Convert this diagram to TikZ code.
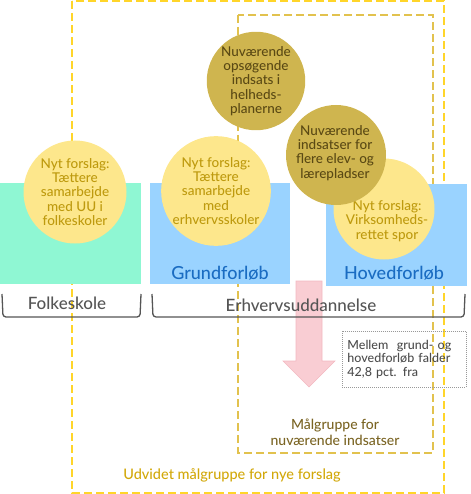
\documentclass[tikz,border=0pt]{standalone}
\usepackage{fontspec}
\setmainfont{Lato}[UprightFont=* Medium]
\definecolor{outery}{HTML}{FFD52A}
\definecolor{innery}{HTML}{E2C24E}
\definecolor{mint}{HTML}{8FF7D3}
\definecolor{sky}{HTML}{9AD3FF}
\definecolor{lightc}{HTML}{FDE78C}
\definecolor{darkc}{HTML}{CFB54F}
\definecolor{lighttxt}{HTML}{BE9A0E}
\definecolor{darktxt}{HTML}{5A4914}
\definecolor{bluetxt}{HTML}{1A6CC2}
\definecolor{greytxt}{HTML}{555555}
\definecolor{pinkfill}{HTML}{F9CDD3}
\definecolor{pinkline}{HTML}{F3B9C1}
\definecolor{goldtxt}{HTML}{D2A80A}
\definecolor{olivetxt}{HTML}{7A6423}
\begin{document}
\begin{tikzpicture}[x=1pt,y=-1pt,
  outerbox/.style={draw=outery, line width=1.4pt, dash pattern=on 8pt off 4pt},
  innerbox/.style={draw=innery, line width=1.4pt, dash pattern=on 8pt off 4pt},
  stagebox/.style={anchor=north west, inner sep=0pt, minimum height=101pt},
  lightcirc/.style={circle, fill=lightc, inner sep=0pt, minimum size=101pt, text=lighttxt,
    align=center, font=\fontsize{13.5}{14.3}\selectfont},
  darkcirc/.style={circle, fill=darkc, inner sep=0pt, minimum size=99pt, text=darktxt,
    align=center, font=\fontsize{13.5}{14.3}\selectfont},
  stagetxt/.style={text=bluetxt, font=\fontsize{18}{20}\selectfont},
  brtxt/.style={text=greytxt, font=\fontsize{17}{20}\selectfont},
  bracketline/.style={draw=greytxt, line width=1.3pt, rounded corners=3pt},
]
\useasboundingbox (0,0) rectangle (470,494);

% dashed target-group frames
\draw[outerbox] (72,1) rectangle (444,493);
\draw[innerbox] (238,15) rectangle (433,453);

% stage rectangles
\node[stagebox, fill=mint, minimum width=141pt] (fs) at (0,183) {};
\node[stagebox, fill=sky, minimum width=140pt] (gf) at (150,183) {};
\node[stagebox, fill=sky, minimum width=141pt, minimum height=102pt] (hf) at (326,184) {};
\node[stagetxt] (gftxt) at (220,273) {Grundforløb};
\node[stagetxt] (hftxt) at (394,273) {Hovedforløb};

% circles
\node[lightcirc, minimum size=103pt] (c1) at (75,192) {Nyt forslag:\\Tættere\\samarbejde\\med UU i\\folkeskoler};
\node[lightcirc, minimum size=98pt] (c2) at (216,191) {Nyt forslag:\\Tættere\\samarbejde\\med\\erhvervsskoler};
\node[lightcirc, minimum size=101pt] (c3) at (384,209) {};
\node[text=lighttxt, align=center, font=\fontsize{13.5}{14.3}\selectfont] (c3txt) at (387,221) {Nyt forslag:\\Virksomheds-\\rettet spor};
\node[darkcirc, minimum size=98pt] (d1) at (256,81) {Nuværende\\opsøgende\\indsats i\\helheds-\\planerne};
\node[darkcirc, minimum size=100pt] (d2) at (336,155) {};
\node[text=darktxt, align=center, font=\fontsize{13.5}{14.3}\selectfont] (d2txt) at (335,153) {Nuværende\\indsatser for\\flere elev- og\\lærepladser};

% drop-out arrow
\draw[fill=pinkfill, draw=pinkline, line width=0.6pt]
  (296,281) -- (322,281) -- (322,361) -- (335,361) -- (309,387) -- (283,361) -- (296,361) -- cycle;

% brackets
\draw[bracketline] (2,294) -- (3,317) -- (140,317) -- (141,294);
\draw[bracketline] (152,294) -- (153,317) -- (464,317) -- (465,294);
\node[brtxt] (fstxt) at (67,303) {Folkeskole};
\node[brtxt] (eudtxt) at (301,305) {Erhvervsuddannelse};

% note box
\node[draw=gray!80, line width=0.8pt, dash pattern=on 1pt off 1pt, anchor=north west,
  minimum width=124pt, minimum height=56pt, text width=114pt, inner xsep=5pt, align=left,
  text=greytxt!90!black, font=\fontsize{12.5}{13.6}\selectfont] (note) at (342,331)
  {Mellem\ \ grund- og\\hovedforløb falder\\42,8 pct. fra};

% labels of frames
\node[text=olivetxt, align=center, font=\fontsize{14}{16}\selectfont] (inlbl) at (335,432) {Målgruppe for\\nuværende indsatser};
\node[text=goldtxt, font=\fontsize{14.5}{16}\selectfont] (outlbl) at (232,475) {Udvidet målgruppe for nye forslag};
\end{tikzpicture}
\end{document}
